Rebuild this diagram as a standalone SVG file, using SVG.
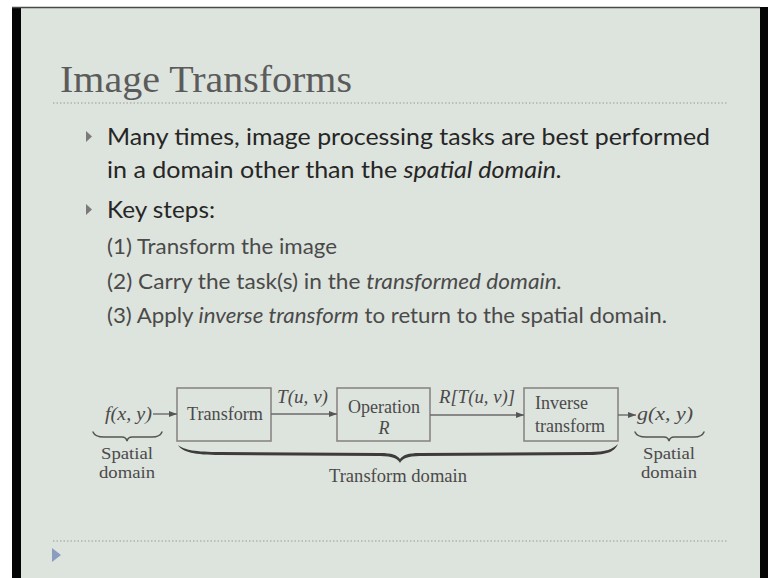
<svg xmlns="http://www.w3.org/2000/svg" width="768" height="578" viewBox="0 0 768 578">
<style>
.serif{font-family:"Liberation Serif","Times New Roman",serif;}
.sans{font-family:Lato,"Open Sans","Noto Sans",sans-serif;}
.title{font-size:38px;fill:#5b5b5b;}
.b1{font-size:24px;fill:#262626;}
.b2{font-size:21px;fill:#4a4a4a;}
.d{font-size:18px;fill:#4a4a4a;}
.dl{font-size:16.5px;fill:#4a4a4a;}
.it{font-style:italic;}
.box{fill:none;stroke:#8a8686;stroke-width:1.6;}
.conn{fill:none;stroke:#6a6a6a;stroke-width:1.4;}
.dots{fill:none;stroke:#aeb4ae;stroke-width:1.5;stroke-dasharray:1.5 2;}
.tri{fill:#7a7a7a;}
.brace{fill:none;stroke:#555;stroke-width:1.5;stroke-linecap:round;}
</style>
<defs>
<marker id="ah" markerUnits="userSpaceOnUse" markerWidth="8" markerHeight="6" refX="8" refY="3" orient="auto">
<path d="M0,0 L8,3 L0,6 Z" fill="#555"/>
</marker>
</defs>
<rect x="0" y="0" width="768" height="578" fill="#ffffff"/>
<rect x="12" y="7" width="10" height="571" fill="#050505"/>
<rect x="21" y="7" width="739" height="571" fill="#dde3dd"/>
<rect x="760" y="7" width="8" height="571" fill="#050505"/>
<line x1="12" y1="7.5" x2="760" y2="7.5" stroke="#4a4a4a" stroke-width="1.5"/>

<g id="header">
<text class="serif title" x="60" y="92" textLength="292" lengthAdjust="spacingAndGlyphs">Image Transforms</text>
<line class="dots" x1="53" y1="103" x2="727" y2="103"/>
</g>

<g id="bullets">
<path class="tri" d="M86,131 L92,136.5 L86,142 Z"/>
<text class="sans b1" x="107" y="145" textLength="603" lengthAdjust="spacingAndGlyphs">Many times, image processing tasks are best performed</text>
<text class="sans b1" x="107" y="178" textLength="455" lengthAdjust="spacingAndGlyphs">in a domain other than the <tspan class="it">spatial domain.</tspan></text>
<path class="tri" d="M86,204 L92,209.5 L86,215 Z"/>
<text class="sans b1" x="107" y="218" textLength="108" lengthAdjust="spacingAndGlyphs">Key steps:</text>
<text class="sans b2" x="107" y="254" textLength="230" lengthAdjust="spacingAndGlyphs">(1) Transform the image</text>
<text class="sans b2" x="107" y="289" textLength="455" lengthAdjust="spacingAndGlyphs">(2) Carry the task(s) in the <tspan class="it">transformed domain.</tspan></text>
<text class="sans b2" x="107" y="323" textLength="560" lengthAdjust="spacingAndGlyphs">(3) Apply <tspan class="it">inverse transform</tspan> to return to the spatial domain.</text>
</g>

<g id="node-f">
<text class="serif d it" x="105" y="420" textLength="47" lengthAdjust="spacingAndGlyphs">f(x, y)</text>
</g>
<g id="node-transform">
<rect class="box" x="177" y="388" width="94" height="53"/>
<text class="serif d" x="187" y="420" textLength="76" lengthAdjust="spacingAndGlyphs">Transform</text>
</g>
<g id="node-operation">
<rect class="box" x="337" y="388" width="93" height="53"/>
<text class="serif d" x="384" y="413" text-anchor="middle">Operation</text>
<text class="serif d it" x="384" y="434" text-anchor="middle">R</text>
</g>
<g id="node-inverse">
<rect class="box" x="524" y="388" width="94" height="53"/>
<text class="serif d" x="535" y="409">Inverse</text>
<text class="serif d" x="535" y="432">transform</text>
</g>
<g id="node-g">
<text class="serif d it" x="637" y="420" textLength="56" lengthAdjust="spacingAndGlyphs">g(x, y)</text>
</g>

<g id="connectors">
<line class="conn" x1="153" y1="414" x2="177" y2="414" marker-end="url(#ah)"/>
<line class="conn" x1="271" y1="414" x2="337" y2="414" marker-end="url(#ah)"/>
<line class="conn" x1="430" y1="415" x2="524" y2="415" marker-end="url(#ah)"/>
<line class="conn" x1="618" y1="415" x2="636" y2="415" marker-end="url(#ah)"/>
<text class="serif d it" x="277" y="403" textLength="51" lengthAdjust="spacingAndGlyphs">T(u, v)</text>
<text class="serif d it" x="439" y="403" textLength="76" lengthAdjust="spacingAndGlyphs">R[T(u, v)]</text>
</g>

<g id="domains">
<path class="brace" d="M93,432 Q95,437 104,437 L122,437 Q126,437 127,441 Q128,437 132,437 L152,437 Q160,437 162,432"/>
<text class="serif dl" x="127" y="459" text-anchor="middle" textLength="52" lengthAdjust="spacingAndGlyphs">Spatial</text>
<text class="serif dl" x="127" y="478" text-anchor="middle" textLength="56" lengthAdjust="spacingAndGlyphs">domain</text>
<path d="M178,445 C182,452 195,455 220,455 L380,456 C393,456 398,459 400,463 C402,459 407,456 420,456 L590,455 C608,455 615,451 618,444 C613,449 606,452 590,452 L420,453 C408,453 403,455 400,459 C397,455 392,453 380,453 L220,452 C196,452 184,450 178,445 Z" fill="#3c3c3c"/>
<text class="serif d" x="398" y="482" text-anchor="middle" textLength="138" lengthAdjust="spacingAndGlyphs">Transform domain</text>
<path class="brace" d="M635,432 Q637,437 646,437 L664,437 Q668,437 669,441 Q670,437 674,437 L694,437 Q702,437 704,432"/>
<text class="serif dl" x="669" y="459" text-anchor="middle" textLength="52" lengthAdjust="spacingAndGlyphs">Spatial</text>
<text class="serif dl" x="669" y="478" text-anchor="middle" textLength="56" lengthAdjust="spacingAndGlyphs">domain</text>
</g>

<g id="footer">
<line class="dots" x1="53" y1="541" x2="728" y2="541"/>
<path d="M52,548 L61,555 L52,562 Z" fill="#8a9cbf"/>
</g>
</svg>
